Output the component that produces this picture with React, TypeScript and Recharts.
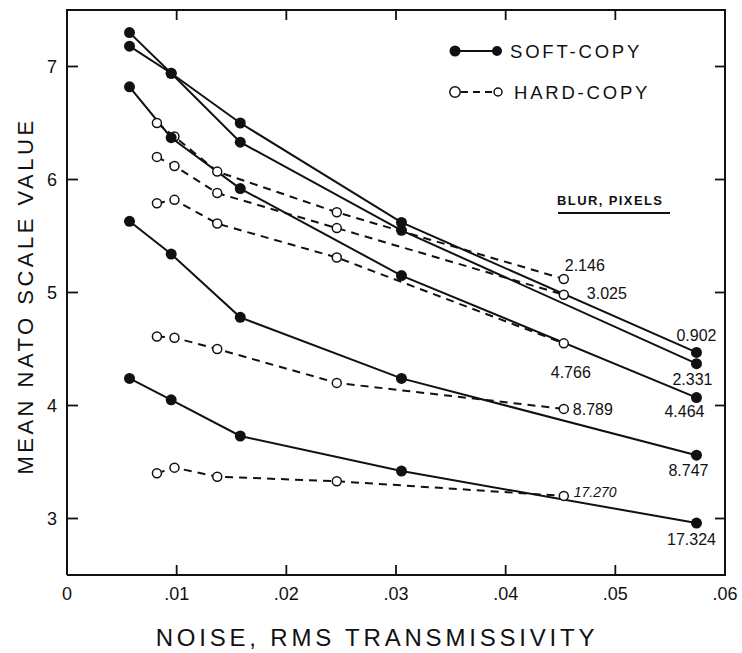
import { LineChart, Line, XAxis, YAxis, Legend, Label } from "recharts";

// noise (rms transmissivity) at which each group was measured
const softNoise = [0.0057, 0.0095, 0.0158, 0.0305, 0.0574];
const hardNoise = [0.0082, 0.0098, 0.0137, 0.0246, 0.0453];

// blur in pixels, one per curve
const softBlur = ["0.902", "2.331", "4.464", "8.747", "17.324"];
const hardBlur = ["2.146", "3.025", "4.766", "8.789", "17.270"];

// mean NATO scale values, soft-copy
const soft0902 = [7.18, 6.94, 6.5, 5.62, 4.47];
const soft2331 = [7.3, 6.94, 6.33, 5.55, 4.37];
const soft4464 = [6.82, 6.37, 5.92, 5.15, 4.07];
const soft8747 = [5.63, 5.34, 4.78, 4.24, 3.56];
const soft17324 = [4.24, 4.05, 3.73, 3.42, 2.96];

// mean NATO scale values, hard-copy
const hard2146 = [6.5, 6.38, 6.07, 5.71, 5.12];
const hard3025 = [6.2, 6.12, 5.88, 5.57, 4.98];
const hard4766 = [5.79, 5.82, 5.61, 5.31, 4.55];
const hard8789 = [4.61, 4.6, 4.5, 4.2, 3.97];
const hard17270 = [3.4, 3.45, 3.37, 3.33, 3.2];

const xTicks = [0, 0.01, 0.02, 0.03, 0.04, 0.05, 0.06];
const xTickLabels = ["0", ".01", ".02", ".03", ".04", ".05", ".06"];
const yTicks = [3, 4, 5, 6, 7];
const xDomain = [0, 0.06];
const yDomain = [2.5, 7.5];

const softValues = [soft0902, soft2331, soft4464, soft8747, soft17324];
const hardValues = [hard2146, hard3025, hard4766, hard8789, hard17270];

const softSeries = softBlur.map((blur, i) => ({
  blur,
  data: softNoise.map((x, j) => ({ x, y: softValues[i][j] })),
}));
const hardSeries = hardBlur.map((blur, i) => ({
  blur,
  data: hardNoise.map((x, j) => ({ x, y: hardValues[i][j] })),
}));

const INK = "#111";
const W = 742;
const H = 653;
const MARGIN = { top: 10, right: 17, left: 0, bottom: 0 };
const Y_AXIS_W = 67;
const X_AXIS_H = 78;
const PLOT = {
  left: MARGIN.left + Y_AXIS_W,
  top: MARGIN.top,
  right: W - MARGIN.right,
  bottom: H - MARGIN.bottom - X_AXIS_H,
};
const PLOT_W = PLOT.right - PLOT.left;
const PLOT_H = PLOT.bottom - PLOT.top;

// where each blur number sits relative to the last point of its curve
const labelPlace: Record<string, { dx: number; dy: number; anchor: string; size?: number; italic?: boolean }> = {
  "0.902": { dx: 0, dy: -11, anchor: "middle" },
  "2.331": { dx: -4, dy: 21, anchor: "middle" },
  "4.464": { dx: -12, dy: 19, anchor: "middle" },
  "8.747": { dx: -8, dy: 21, anchor: "middle" },
  "17.324": { dx: -5, dy: 22, anchor: "middle" },
  "2.146": { dx: 21, dy: -8, anchor: "middle" },
  "3.025": { dx: 23, dy: 4, anchor: "start" },
  "4.766": { dx: 7, dy: 35, anchor: "middle" },
  "8.789": { dx: 9, dy: 6, anchor: "start" },
  "17.270": { dx: 10, dy: 1, anchor: "start", size: 14, italic: true },
};

const endLabel = (blur: string, last: number) => (p: any) => {
  if (p.index !== last) return <g />;
  const s = labelPlace[blur];
  return (
    <text
      x={p.x + s.dx}
      y={p.y + s.dy}
      textAnchor={s.anchor as any}
      fontSize={s.size ?? 16}
      fontStyle={s.italic ? "italic" : "normal"}
      fill={INK}
    >
      {blur}
    </text>
  );
};

// left ticks also mirror onto the right edge of the frame
const LeftTick = (props: any) => {
  const { x, y, payload, index } = props;
  const rx = x + PLOT_W;
  return (
    <g>
      {index === 0 && (
        <line x1={rx} x2={rx} y1={PLOT.top - 1} y2={PLOT.bottom + 1} stroke={INK} strokeWidth={2} />
      )}
      <line x1={x} x2={x + 11} y1={y} y2={y} stroke={INK} strokeWidth={1.8} />
      <line x1={rx} x2={rx - 10} y1={y} y2={y} stroke={INK} strokeWidth={1.8} />
      <text x={x - 10} y={y + 6} textAnchor="end" fontSize={18} fill={INK}>
        {payload.value}
      </text>
    </g>
  );
};

// bottom ticks also mirror onto the top edge of the frame
const BottomTick = (props: any) => {
  const { x, y, payload, index } = props;
  const i = xTicks.indexOf(payload.value);
  const ty = y - PLOT_H;
  const inner = i > 0 && i < xTicks.length - 1;
  return (
    <g>
      {index === 0 && (
        <line x1={PLOT.left - 1} x2={PLOT.right + 1} y1={ty} y2={ty} stroke={INK} strokeWidth={2} />
      )}
      <line x1={x} x2={x} y1={y} y2={y - 10} stroke={INK} strokeWidth={1.8} />
      {inner && <line x1={x} x2={x} y1={ty} y2={ty + 10} stroke={INK} strokeWidth={1.8} />}
      <text x={x} y={y + 25} textAnchor="middle" fontSize={18} fill={INK}>
        {xTickLabels[i]}
      </text>
    </g>
  );
};

const XTitle = () => (
  <text x={377} y={646} textAnchor="middle" fontSize={24} letterSpacing={3.8} fill={INK}>
    NOISE, RMS TRANSMISSIVITY
  </text>
);

const YTitle = () => (
  <text x={33} y={296} transform="rotate(-90 33 296)" textAnchor="middle" fontSize={22} letterSpacing={3.5} fill={INK}>
    MEAN NATO SCALE VALUE
  </text>
);

const LegendArt = () => (
  <svg width={W} height={H} style={{ position: "absolute", left: 0, top: 0 }}>
    <line x1={455} x2={497} y1={51} y2={51} stroke={INK} strokeWidth={2} />
    <circle cx={455} cy={51} r={5.5} fill={INK} />
    <circle cx={497} cy={51} r={5} fill={INK} />
    <text x={510} y={58} fontSize={18.5} letterSpacing={2.8} fill={INK}>
      SOFT-COPY
    </text>
    <line x1={461} x2={494} y1={92} y2={92} stroke={INK} strokeWidth={2} strokeDasharray="7 5" />
    <circle cx={455} cy={92} r={5.2} fill="#fff" stroke={INK} strokeWidth={1.5} />
    <circle cx={498} cy={92} r={4} fill="#fff" stroke={INK} strokeWidth={1.5} />
    <text x={514} y={99} fontSize={18.5} letterSpacing={2.8} fill={INK}>
      HARD-COPY
    </text>
    <text x={557} y={205} fontSize={13} fontWeight="bold" letterSpacing={1.4} fill={INK}>
      BLUR, PIXELS
    </text>
    <line x1={558} x2={670} y1={213} y2={213} stroke={INK} strokeWidth={2} />
  </svg>
);

export default function App() {
  return (
    <div
      style={{
        position: "absolute",
        left: 0,
        top: 0,
        width: W,
        height: H,
        background: "#fff",
        fontFamily: '"Liberation Sans", Arial, sans-serif',
      }}
    >
      <LineChart width={W} height={H} margin={MARGIN}>
        <XAxis
          type="number"
          dataKey="x"
          domain={xDomain}
          ticks={xTicks}
          interval={0}
          height={X_AXIS_H}
          tickSize={0}
          tickMargin={0}
          tickLine={false}
          tick={<BottomTick />}
          axisLine={{ stroke: INK, strokeWidth: 2 }}
        >
          <Label content={XTitle} />
        </XAxis>
        <YAxis
          type="number"
          domain={yDomain}
          ticks={yTicks}
          interval={0}
          width={Y_AXIS_W}
          tickSize={0}
          tickMargin={0}
          tickLine={false}
          tick={<LeftTick />}
          axisLine={{ stroke: INK, strokeWidth: 2 }}
        >
          <Label content={YTitle} />
        </YAxis>
        <Legend
          layout="vertical"
          align="center"
          verticalAlign="middle"
          wrapperStyle={{ position: "absolute", left: 0, top: 0, width: W, height: H, pointerEvents: "none" }}
          content={() => <LegendArt />}
        />
        {hardSeries.map((s) => (
          <Line
            key={"h" + s.blur}
            data={s.data}
            dataKey="y"
            type="linear"
            stroke={INK}
            strokeWidth={2}
            strokeDasharray="8 6"
            dot={{ r: 4.5, fill: "#fff", stroke: INK, strokeWidth: 1.5, strokeDasharray: "none" }}
            label={endLabel(s.blur, s.data.length - 1)}
            isAnimationActive={false}
          />
        ))}
        {softSeries.map((s) => (
          <Line
            key={"s" + s.blur}
            data={s.data}
            dataKey="y"
            type="linear"
            stroke={INK}
            strokeWidth={2}
            dot={{ r: 5.5, fill: INK, stroke: INK, strokeWidth: 0 }}
            label={endLabel(s.blur, s.data.length - 1)}
            isAnimationActive={false}
          />
        ))}
      </LineChart>
    </div>
  );
}
